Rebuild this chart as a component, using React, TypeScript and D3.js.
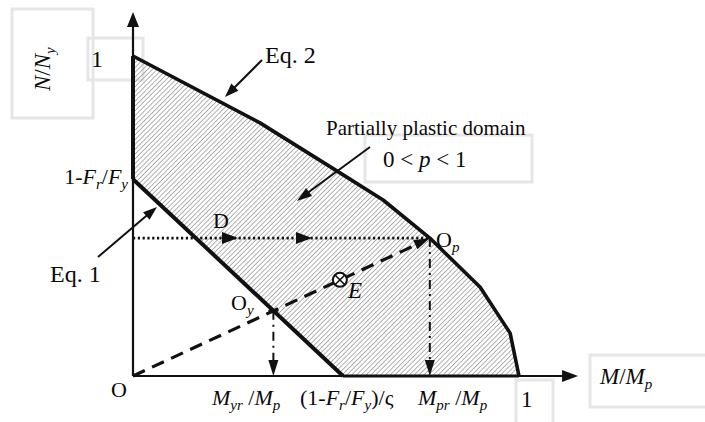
import React from "react";
import * as d3 from "d3";

// ---- data (normalised M/Mp, N/Ny) ----
const curveM = [0, 0.329, 0.528, 0.648, 0.769, 0.899, 0.977, 1];
const curveN = [1, 0.791, 0.641, 0.55, 0.431, 0.278, 0.134, 0];
const residualLevel = 0.615; // 1 - Fr/Fy
const eq1Intercept = 0.544; // (1 - Fr/Fy)/ς
const opPoint = [0.769, 0.431];
const ePointM = 0.536;
const axisMax = [1.153, 1.1375];

const W = 705;
const H = 422;
const FONT = "'Liberation Serif', 'Times New Roman', serif";

const x = d3.scaleLinear().domain([0, 1]).range([133, 519]);
const y = d3.scaleLinear().domain([0, 1]).range([376, 56]);

function head(tx: number, ty: number, fx: number, fy: number, len = 14, half = 5) {
  const dx = tx - fx, dy = ty - fy;
  const L = Math.hypot(dx, dy);
  const ux = dx / L, uy = dy / L;
  const bx = tx - ux * len, by = ty - uy * len;
  return `M${tx},${ty}L${bx - uy * half},${by + ux * half}L${bx + uy * half},${by - ux * half}Z`;
}

export default function App() {
  const pts: [number, number][] = curveM.map((m, i) => [m, curveN[i]]);
  const curveLine = d3
    .line<[number, number]>()
    .x((d) => x(d[0]))
    .y((d) => y(d[1]))
    .curve(d3.curveLinear);
  const eq2Path = curveLine(pts) as string;
  const regionPath =
    eq2Path + `L${x(eq1Intercept)},${y(0)}L${x(0)},${y(residualLevel)}Z`;

  const slope = opPoint[1] / opPoint[0];
  const oyM = residualLevel / (slope + residualLevel / eq1Intercept);
  const oyN = slope * oyM;
  const ox = x(0), oy0 = y(0);
  const opx = x(opPoint[0]), opy = y(opPoint[1]);
  const oyx = x(oyM), oyy = y(oyN);
  const ex = x(ePointM), ey = y(slope * ePointM);

  const box = { fill: "none", stroke: "#e6e6e6", strokeWidth: 3 };
  const t = { fontFamily: FONT, fontSize: 22, fill: "#0a0a0a" } as const;
  const sub = { fontSize: 15, fontStyle: "italic" as const };

  return (
    <svg width={W} height={H} style={{ position: "absolute", left: 0, top: 0, background: "#fff" }}>
      <defs>
        <pattern id="hatch" width={3.4} height={3.4} patternUnits="userSpaceOnUse" patternTransform="rotate(45)">
          <line x1={0} y1={0} x2={0} y2={3.4} stroke="#888" strokeWidth={1.3} />
        </pattern>
      </defs>
      <rect x={0} y={0} width={W} height={H} fill="#fff" />

      {/* faint boxes */}
      <rect x={12} y={9} width={81} height={109} {...box} />
      <rect x={88} y={38} width={55} height={42} {...box} />
      <rect x={365} y={135} width={167} height={47} {...box} />
      <rect x={590} y={355} width={118} height={52} {...box} />
      <rect x={516} y={380} width={37} height={50} {...box} />

      {/* hatched region */}
      <path d={regionPath} fill="url(#hatch)" stroke="none" />

      {/* axes */}
      <line x1={ox} y1={oy0} x2={x(axisMax[0]) - 10} y2={oy0} stroke="#111" strokeWidth={2.2} />
      <path d={head(x(axisMax[0]), oy0, ox, oy0, 16, 6)} fill="#111" />
      <line x1={ox} y1={oy0} x2={ox} y2={y(axisMax[1]) + 10} stroke="#111" strokeWidth={2.2} />
      <path d={head(ox, y(axisMax[1]), ox, oy0, 15, 6)} fill="#111" />
      <line x1={x(eq1Intercept)} y1={oy0} x2={x(1)} y2={oy0} stroke="#111" strokeWidth={3} />

      {/* boundaries */}
      <path d={eq2Path} fill="none" stroke="#111" strokeWidth={3.6} strokeLinejoin="round" />
      <line x1={x(0)} y1={y(residualLevel)} x2={x(eq1Intercept)} y2={y(0)} stroke="#111" strokeWidth={4} />
      <line x1={x(0)} y1={y(residualLevel)} x2={x(0)} y2={y(1)} stroke="#111" strokeWidth={4} />

      {/* D dotted path */}
      <line x1={ox} y1={opy} x2={opx - 2} y2={opy} stroke="#111" strokeWidth={2.6} strokeDasharray="2.2 2.6" />
      <path d={head(238, opy, ox, opy, 16, 6)} fill="#111" />
      <path d={head(312, opy, ox, opy, 16, 6)} fill="#111" />

      {/* dashed O -> Op */}
      <line x1={ox} y1={oy0} x2={opx - 8} y2={opy + 4} stroke="#111" strokeWidth={3.2} strokeDasharray="13 8" />
      <path d={head(opx, opy, ox, oy0, 16, 5)} fill="#111" />

      {/* dash-dot verticals */}
      <line x1={opx} y1={opy} x2={opx} y2={oy0 - 12} stroke="#111" strokeWidth={2} strokeDasharray="9 5 2 5" />
      <path d={head(opx, oy0, opx, opy, 16, 5)} fill="#111" />
      <line x1={oyx} y1={oyy} x2={oyx} y2={oy0 - 12} stroke="#111" strokeWidth={2} strokeDasharray="9 5 2 5" />
      <path d={head(oyx, oy0, oyx, oyy, 16, 5)} fill="#111" />
      <path d={`M${oyx - 5},${oyy}L${oyx + 5},${oyy}`} stroke="#111" strokeWidth={2} />

      {/* E point */}
      <circle cx={ex} cy={ey} r={7} fill="#fff" stroke="#111" strokeWidth={2} />
      <path d={`M${ex - 4.9},${ey - 4.9}L${ex + 4.9},${ey + 4.9}M${ex + 4.9},${ey - 4.9}L${ex - 4.9},${ey + 4.9}`} stroke="#111" strokeWidth={1.6} />
      <text x={348} y={298} {...t} fontSize={23} fontStyle="italic">E</text>

      {/* annotation arrows */}
      <line x1={262} y1={60} x2={229} y2={93} stroke="#111" strokeWidth={2} />
      <path d={head(225, 97, 262, 60, 14, 5)} fill="#111" />
      <line x1={370} y1={147} x2={302} y2={197} stroke="#111" strokeWidth={2} />
      <path d={head(297, 201, 370, 147, 15, 5)} fill="#111" />
      <line x1={98} y1={257} x2={152} y2={211} stroke="#111" strokeWidth={2} />
      <path d={head(157, 207, 98, 257, 14, 5)} fill="#111" />

      {/* labels */}
      <text x={265} y={63} {...t} fontSize={24}>Eq. 2</text>
      <text x={50} y={282} {...t} fontSize={24}>Eq. 1</text>
      <text x={326} y={135} {...t} fontSize={21}>Partially plastic domain</text>
      <text x={383} y={167} {...t} fontSize={23}>
        0 &lt; <tspan fontStyle="italic">p</tspan> &lt; 1
      </text>
      <text x={213} y={228} {...t} fontSize={22}>D</text>
      <text x={436} y={247} {...t} fontSize={22}>
        O<tspan dy={5} fontSize={15} fontStyle="italic">p</tspan>
      </text>
      <text x={231} y={310} {...t} fontSize={22}>
        O<tspan dy={5} fontSize={15} fontStyle="italic">y</tspan>
      </text>
      <text x={111} y={397} {...t} fontSize={22}>O</text>

      <text x={91} y={67} {...t} fontSize={24}>1</text>
      <text x={128} y={184} {...t} textAnchor="end">
        1-<tspan fontStyle="italic">F</tspan>
        <tspan dy={5} {...sub}>r</tspan>
        <tspan dy={-5}>/</tspan>
        <tspan fontStyle="italic">F</tspan>
        <tspan dy={5} {...sub}>y</tspan>
      </text>

      <text transform="translate(50,91) rotate(-90)" {...t} fontSize={23}>
        <tspan fontStyle="italic">N</tspan>/<tspan fontStyle="italic">N</tspan>
        <tspan dy={5} {...sub}>y</tspan>
      </text>

      <text x={212} y={405} {...t}>
        <tspan fontStyle="italic">M</tspan>
        <tspan dy={5} {...sub}>yr</tspan>
        <tspan dy={-5}> /</tspan>
        <tspan fontStyle="italic">M</tspan>
        <tspan dy={5} {...sub}>p</tspan>
      </text>
      <text x={300} y={405} {...t}>
        (1-<tspan fontStyle="italic">F</tspan>
        <tspan dy={5} {...sub}>r</tspan>
        <tspan dy={-5}>/</tspan>
        <tspan fontStyle="italic">F</tspan>
        <tspan dy={5} {...sub}>y</tspan>
        <tspan dy={-5}>)/ς</tspan>
      </text>
      <text x={418} y={405} {...t}>
        <tspan fontStyle="italic">M</tspan>
        <tspan dy={5} {...sub}>pr</tspan>
        <tspan dy={-5}> /</tspan>
        <tspan fontStyle="italic">M</tspan>
        <tspan dy={5} {...sub}>p</tspan>
      </text>
      <text x={521} y={407} {...t} fontSize={23}>1</text>
      <text x={600} y={384} {...t} fontSize={23}>
        <tspan fontStyle="italic">M</tspan>/<tspan fontStyle="italic">M</tspan>
        <tspan dy={5} {...sub}>p</tspan>
      </text>
    </svg>
  );
}
